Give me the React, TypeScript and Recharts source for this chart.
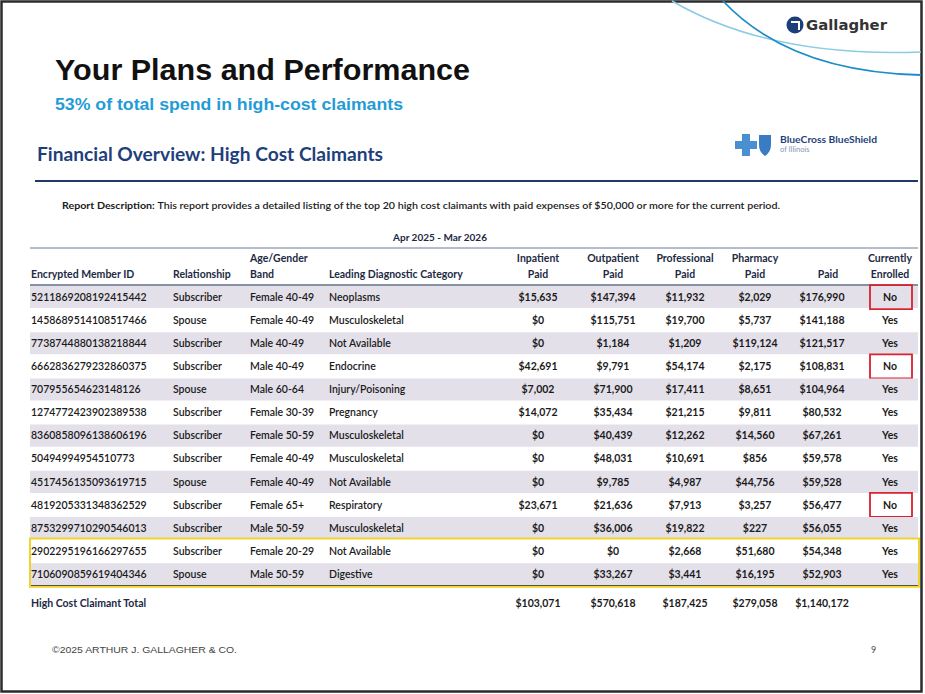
import { Surface, Layer, Text, Rectangle } from 'recharts';

// row data, top 13 high cost claimants
const memberIds = [
  '5211869208192415442', '1458689514108517466', '7738744880138218844', '6662836279232860375',
  '707955654623148126', '1274772423902389538', '8360858096138606196', '50494994954510773',
  '4517456135093619715', '4819205331348362529', '8753299710290546013', '2902295196166297655',
  '7106090859619404346',
];
const relationships = [
  'Subscriber', 'Spouse', 'Subscriber', 'Subscriber', 'Spouse', 'Subscriber', 'Subscriber',
  'Subscriber', 'Spouse', 'Subscriber', 'Subscriber', 'Subscriber', 'Spouse',
];
const ageBands = [
  'Female 40-49', 'Female 40-49', 'Male 40-49', 'Male 40-49', 'Male 60-64', 'Female 30-39',
  'Female 50-59', 'Female 40-49', 'Female 40-49', 'Female 65+', 'Male 50-59', 'Female 20-29', 'Male 50-59',
];
const diagnoses = [
  'Neoplasms', 'Musculoskeletal', 'Not Available', 'Endocrine', 'Injury/Poisoning', 'Pregnancy',
  'Musculoskeletal', 'Musculoskeletal', 'Not Available', 'Respiratory', 'Musculoskeletal', 'Not Available', 'Digestive',
];
const inpatientPaid = [15635, 0, 0, 42691, 7002, 14072, 0, 0, 0, 23671, 0, 0, 0];
const outpatientPaid = [147394, 115751, 1184, 9791, 71900, 35434, 40439, 48031, 9785, 21636, 36006, 0, 33267];
const professionalPaid = [11932, 19700, 1209, 54174, 17411, 21215, 12262, 10691, 4987, 7913, 19822, 2668, 3441];
const pharmacyPaid = [2029, 5737, 119124, 2175, 8651, 9811, 14560, 856, 44756, 3257, 227, 51680, 16195];
const totalPaid = [176990, 141188, 121517, 108831, 104964, 80532, 67261, 59578, 59528, 56477, 56055, 54348, 52903];
const enrolled = ['No', 'Yes', 'Yes', 'No', 'Yes', 'Yes', 'Yes', 'Yes', 'Yes', 'No', 'Yes', 'Yes', 'Yes'];
const totals = [103071, 570618, 187425, 279058, 1140172];
const highlightedRows = [11, 12];

const W = 925;
const H = 694;
const FONT = 'Lato, "Open Sans", sans-serif';
const TEXT = '#1b1b1b';
const HEAD = '#1c2a44';

const ROW_TOP = 285.5;
const ROW_H = 23.1;

const textCols = [31, 173, 250, 329];
const numCols = [538, 613, 685, 755, 822];
const enrolledX = 890;

const money = (v: number) => '$' + v.toLocaleString('en-US');

const Cell = ({ x, y, value, anchor = 'start', bold = false, color = TEXT, size = 10.5 }: any) => (
  <Text
    x={x}
    y={y}
    textAnchor={anchor}
    verticalAnchor="middle"
    fontFamily={FONT}
    fontSize={size}
    fontWeight={bold ? 700 : 600}
    fill={color}
  >
    {value}
  </Text>
);

export default function App() {
  const numeric = [inpatientPaid, outpatientPaid, professionalPaid, pharmacyPaid, totalPaid];
  const rowMid = (i: number) => ROW_TOP + ROW_H * i + ROW_H / 2;
  const lastBottom = ROW_TOP + ROW_H * memberIds.length;

  return (
    <div style={{ position: 'absolute', left: 0, top: 0, width: W, height: H, background: '#fff' }}>
      <Surface width={W} height={H} viewBox={{ x: 0, y: 0, width: W, height: H }}>
        {/* page frame */}
        <Rectangle x={1.5} y={1.5} width={W - 5} height={H - 4} fill="#fff" stroke="#2b2b2b" strokeWidth={2.5} />

        {/* decorative arcs */}
        <path d="M 672 1 Q 770 58 921 52" stroke="#8ccbe3" strokeWidth={1.5} fill="none" />
        <path d="M 723 1 Q 790 72 921 75" stroke="#1c8cc8" strokeWidth={1.8} fill="none" />

        {/* Gallagher logo */}
        <Layer>
          <circle cx={795} cy={25} r={8.5} fill="#1b3f7a" />
          <path d="M 791 22 h 8 v 8" stroke="#fff" strokeWidth={2} fill="none" />
          <text x={806} y={30} fontFamily='"DejaVu Sans", sans-serif' fontSize={14.5} fontWeight={700} fill="#333" textLength={81} lengthAdjust="spacingAndGlyphs">Gallagher</text>
        </Layer>

        {/* titles */}
        <text x={55} y={80} fontFamily='"Liberation Sans", Arial, sans-serif' fontSize={29.5} fontWeight={700} fill="#111" textLength={415} lengthAdjust="spacingAndGlyphs">Your Plans and Performance</text>
        <text x={55} y={110} fontFamily='"Liberation Sans", Arial, sans-serif' fontSize={16.5} fontWeight={700} fill="#239bd6" textLength={348} lengthAdjust="spacingAndGlyphs">53% of total spend in high-cost claimants</text>
        <text x={37} y={161} fontFamily={FONT} fontSize={18.5} fontWeight={700} fill="#1f3f7c" textLength={346} lengthAdjust="spacingAndGlyphs">Financial Overview: High Cost Claimants</text>

        {/* BCBS logo */}
        <Layer>
          <Rectangle x={735} y={141} width={22} height={8} fill="#4a8fd0" />
          <Rectangle x={742} y={134} width={8} height={22} fill="#4a8fd0" />
          <path d="M 759 135 h 12 v 10 q 0 7 -6 11 q -6 -4 -6 -11 z" fill="#3a7cc4" />
          <text x={780} y={143} fontFamily={FONT} fontSize={9} fontWeight={700} fill="#1f3f7c" textLength={97} lengthAdjust="spacingAndGlyphs">BlueCross BlueShield</text>
          <text x={780} y={152} fontFamily={FONT} fontSize={7.5} fill="#8898b0">of Illinois</text>
        </Layer>

        <line x1={35} x2={918} y1={181} y2={181} stroke="#1f3864" strokeWidth={2.2} />

        <text x={62} y={209} fontFamily={FONT} fontSize={9.8} fill={TEXT} textLength={718} lengthAdjust="spacingAndGlyphs">
          <tspan fontWeight={700}>Report Description: </tspan>
          <tspan fontWeight={600}>This report provides a detailed listing of the top 20 high cost claimants with paid expenses of $50,000 or more for the current period.</tspan>
        </text>

        <Cell x={440} y={237} value="Apr 2025 - Mar 2026" anchor="middle" bold color={HEAD} size={10} />
        <line x1={30} x2={918} y1={248} y2={248} stroke="#6b7a99" strokeWidth={1} />

        {/* header */}
        <Cell x={textCols[0]} y={274} value="Encrypted Member ID" bold color={HEAD} />
        <Cell x={textCols[1]} y={274} value="Relationship" bold color={HEAD} />
        <Cell x={textCols[2]} y={258} value="Age/Gender" bold color={HEAD} />
        <Cell x={textCols[2]} y={274} value="Band" bold color={HEAD} />
        <Cell x={textCols[3]} y={274} value="Leading Diagnostic Category" bold color={HEAD} />
        {['Inpatient', 'Outpatient', 'Professional', 'Pharmacy'].map((h, i) => (
          <Cell key={h} x={numCols[i]} y={258} value={h} anchor="middle" bold color={HEAD} />
        ))}
        {numCols.map((x) => (
          <Cell key={x} x={x + (x === numCols[4] ? 6 : 0)} y={274} value="Paid" anchor="middle" bold color={HEAD} />
        ))}
        <Cell x={enrolledX} y={258} value="Currently" anchor="middle" bold color={HEAD} />
        <Cell x={enrolledX} y={274} value="Enrolled" anchor="middle" bold color={HEAD} />
        <line x1={30} x2={918} y1={285} y2={285} stroke="#5f6c86" strokeWidth={1.4} />

        {/* body rows */}
        {memberIds.map((id, i) => (
          <Layer key={id}>
            {i % 2 === 0 && (
              <Rectangle x={30} y={ROW_TOP + ROW_H * i + 0.5} width={888} height={ROW_H - 1} fill="#e3e0e9" />
            )}
            <Cell x={textCols[0]} y={rowMid(i)} value={id} />
            <Cell x={textCols[1]} y={rowMid(i)} value={relationships[i]} />
            <Cell x={textCols[2]} y={rowMid(i)} value={ageBands[i]} />
            <Cell x={textCols[3]} y={rowMid(i)} value={diagnoses[i]} />
            {numeric.map((col, c) => (
              <Cell key={c} x={numCols[c]} y={rowMid(i)} value={money(col[i])} anchor="middle" bold />
            ))}
            <Cell x={enrolledX} y={rowMid(i)} value={enrolled[i]} anchor="middle" bold />
            {enrolled[i] === 'No' && (
              <Rectangle x={870} y={rowMid(i) - 12} width={42} height={24} fill="none" stroke="#d8222e" strokeWidth={1.8} />
            )}
          </Layer>
        ))}
        <line x1={30} x2={918} y1={lastBottom} y2={lastBottom} stroke="#2a2f3a" strokeWidth={1.4} />

        {/* yellow highlight on last rows */}
        <Rectangle
          x={30}
          y={ROW_TOP + ROW_H * highlightedRows[0] - 1}
          width={889}
          height={ROW_H * highlightedRows.length + 2}
          fill="none"
          stroke="#f1d330"
          strokeWidth={2}
        />

        {/* totals */}
        <Cell x={textCols[0]} y={603} value="High Cost Claimant Total" bold color={HEAD} />
        {totals.map((t, c) => (
          <Cell key={c} x={numCols[c]} y={603} value={money(t)} anchor="middle" bold />
        ))}

        {/* footer */}
        <text x={52} y={653} fontFamily='"Liberation Sans Narrow", "Liberation Sans", sans-serif' fontSize={9} fill="#444" textLength={185} lengthAdjust="spacingAndGlyphs">©2025 ARTHUR J. GALLAGHER &amp; CO.</text>
        <text x={871} y={653} fontFamily={FONT} fontSize={9} fill="#444">9</text>
      </Surface>
    </div>
  );
}
